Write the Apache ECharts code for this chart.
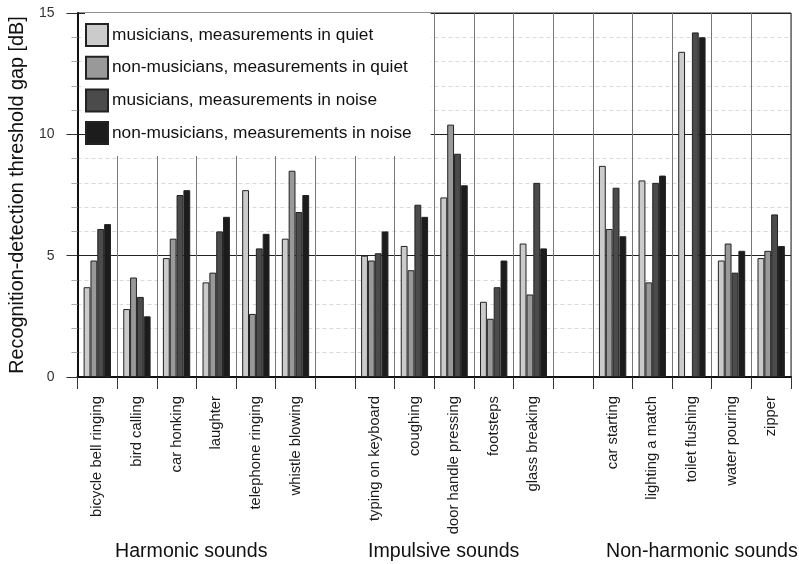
<!DOCTYPE html>
<html><head><meta charset="utf-8">
<script src="https://cdn.jsdelivr.net/npm/echarts@6/dist/echarts.min.js"></script>
<style>html,body{margin:0;padding:0;background:#fff}#c{width:799px;height:564px}</style>
</head><body><div id="c"></div>
<script>
const categories = ['bicycle bell ringing','bird calling','car honking','laughter','telephone ringing','whistle blowing','',
  'typing on keyboard','coughing','door handle pressing','footsteps','glass breaking','',
  'car starting','lighting a match','toilet flushing','water pouring','zipper'];
const musiciansQuiet    = [3.7,2.8,4.9,3.9,7.7,5.7,null, 5.0,5.4,7.4,3.1,5.5,null, 8.7,8.1,13.4,4.8,4.9];
const nonMusiciansQuiet = [4.8,4.1,5.7,4.3,2.6,8.5,null, 4.8,4.4,10.4,2.4,3.4,null, 6.1,3.9,null,5.5,5.2];
const musiciansNoise    = [6.1,3.3,7.5,6.0,5.3,6.8,null, 5.1,7.1,9.2,3.7,8.0,null, 7.8,8.0,14.2,4.3,6.7];
const nonMusiciansNoise = [6.3,2.5,7.7,6.6,5.9,7.5,null, 6.0,6.6,7.9,4.8,5.3,null, 5.8,8.3,14.0,5.2,5.4];
const seriesNames = ['musicians, measurements in quiet','non-musicians, measurements in quiet','musicians, measurements in noise','non-musicians, measurements in noise'];
const seriesColors = ['#cbcbcb','#999999','#4b4b4b','#1c1c1c'];
const groupLabels = ['Harmonic sounds','Impulsive sounds','Non-harmonic sounds'];
const yTicks = [0,5,10,15];

const font = 'Liberation Sans, Arial, sans-serif';
const dataArr = [musiciansQuiet, nonMusiciansQuiet, musiciansNoise, nonMusiciansNoise];
const chart = echarts.init(document.getElementById('c'), null, {renderer:'canvas'});
chart.setOption({
  animation:false,
  backgroundColor:'#fff',
  textStyle:{fontFamily:font},
  grid:{left:73,right:8,top:13,bottom:187,show:true,borderColor:'#222',borderWidth:1,backgroundColor:'transparent'},
  legend:{
    orient:'vertical', left:85, top:13, itemWidth:22, itemHeight:22, itemGap:8.7,
    padding:[10,19,11,0], backgroundColor:'#fff', icon:'rect',
    textStyle:{fontSize:17.3,lineHeight:20,color:'#111',fontFamily:font,padding:[0,0,0,-1]},
    data:seriesNames
  },
  xAxis:{
    type:'category', data:categories, boundaryGap:true,
    axisLine:{lineStyle:{color:'#111',width:2}},
    axisTick:{show:true,length:12,interval:0,lineStyle:{color:'#333'}},
    axisLabel:{interval:0,rotate:90,margin:19,fontSize:14.8,color:'#1a1a1a',fontFamily:font},
    splitLine:{show:true,interval:0,lineStyle:{color:'#777',width:1}}
  },
  yAxis:{
    type:'value', min:0, max:15, interval:5,
    name:'Recognition-detection threshold gap [dB]', nameLocation:'middle', nameGap:43,
    nameTextStyle:{fontSize:19.8,color:'#111',fontFamily:font},
    axisLine:{show:true,lineStyle:{color:'#111',width:2}},
    axisTick:{show:true,length:11,lineStyle:{color:'#333'}},
    minorTick:{show:true,splitNumber:5,length:6,lineStyle:{color:'#aaa'}},
    axisLabel:{margin:23,fontSize:14,color:'#333',fontFamily:font,
      formatter:v=>yTicks.includes(v)?String(v):''},
    splitLine:{show:true,lineStyle:{color:'#222',width:1}},
    minorSplitLine:{show:true,lineStyle:{color:'#dadada',type:[4,3],width:1}}
  },
  series:seriesNames.map((n,i)=>({
    name:n, type:'bar', data:dataArr[i], barGap:'0%', barCategoryGap:'31%',
    itemStyle:{color:seriesColors[i],borderColor:'#222',borderWidth:1}
  })),
  graphic:[
    {type:'text',left:115,top:542,style:{text:groupLabels[0],fontSize:19.6,fill:'#111',fontFamily:font}},
    {type:'text',left:368,top:542,style:{text:groupLabels[1],fontSize:19.6,fill:'#111',fontFamily:font}},
    {type:'text',left:606,top:542,style:{text:groupLabels[2],fontSize:19.6,fill:'#111',fontFamily:font}}
  ]
});
</script></body></html>
